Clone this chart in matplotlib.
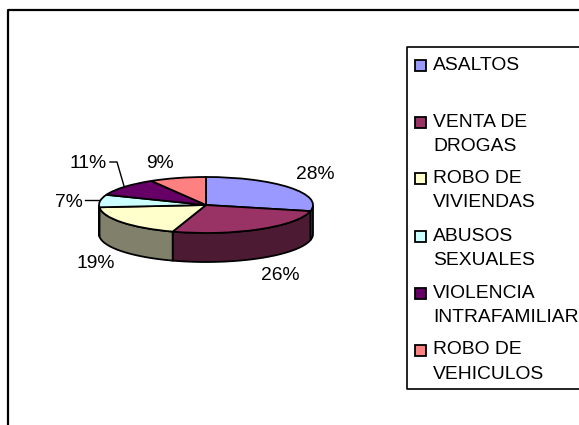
# -*- coding: utf-8 -*-
import numpy as np
import matplotlib
matplotlib.use("Agg")
import matplotlib.pyplot as plt
from matplotlib.patches import Rectangle

plt.rcParams['font.family'] = ['Liberation Sans', 'DejaVu Sans']

# datos
categorias = ["ASALTOS", "VENTA DE\nDROGAS", "ROBO DE\nVIVIENDAS",
              "ABUSOS\nSEXUALES", "VIOLENCIA\nINTRAFAMILIAR", "ROBO DE\nVEHICULOS"]
valores = [28.4, 26.45, 18.6, 7.2, 10.5, 8.5]
etiquetas = ["28%", "26%", "19%", "7%", "11%", "9%"]
colores = ["#9999FF", "#993366", "#FFFFCC", "#CCFFFF", "#660066", "#FF8080"]
colores_lado = ["#4D4D80", "#4D1A33", "#80806B", "#668080", "#330033", "#804040"]

W, H = 579, 425
TAM = 13.9

fig = plt.figure(figsize=(W / 100, H / 100), dpi=100)

# capa en pixeles para el marco, la leyenda y los textos
fondo = fig.add_axes([0, 0, 1, 1])
fondo.set_xlim(0, W)
fondo.set_ylim(H, 0)
fondo.axis("off")

# marco exterior (cortado por la derecha y por abajo)
fondo.plot([8, 8, W], [H, 10, 10], color="black", lw=1.6, solid_capstyle="butt")

# torta: elipse de 214x56 px con 29 px de grosor
x0, x1, y0, y1 = 99, 313, 177, 233
ax = fig.add_axes([x0 / W, 1 - y1 / H, (x1 - x0) / W, (y1 - y0) / H])
ax.patch.set_alpha(0)
ax.axis("off")
grosor = 29 / ((y1 - y0) / 2)

fracs = np.array(valores) / sum(valores) * 360
fin = np.cumsum(fracs)
ini = fin - fracs
for a, b, c in zip(ini, fin, colores_lado):
    a2, b2 = max(a, 90), min(b, 270)
    if b2 <= a2:
        continue
    t = np.radians(np.linspace(a2, b2, 60))
    xs = np.sin(t)
    ys = np.cos(t)
    ax.fill(np.r_[xs, xs[::-1]], np.r_[ys, ys[::-1] - grosor], facecolor=c,
            edgecolor="black", lw=1.3, clip_on=False, zorder=1)

ax.pie(valores, colors=colores, startangle=90, counterclock=False, radius=1,
       wedgeprops={"edgecolor": "black", "linewidth": 1.3, "clip_on": False, "zorder": 2})
ax.set_aspect("auto")
ax.set_xlim(-1, 1)
ax.set_ylim(-1, 1)

# etiquetas de porcentaje
pos_etq = [(315, 174), (280, 276), (96, 264), (69, 202), (88, 163), (160, 163)]
for txt, (x, y) in zip(etiquetas, pos_etq):
    fondo.text(x, y, txt, fontsize=TAM, ha="center", va="center", color="black")

# lineas guia
fondo.plot([85, 100], [200, 200], color="black", lw=1.0)
fondo.plot([110, 117, 124], [162, 162, 186], color="black", lw=1.0)

# leyenda
fondo.plot([W, 407, 407, W], [47, 47, 389, 389], color="black", lw=1.2)
filas_y = [65, 122, 178, 236, 293, 350]
for nombre, color, y in zip(categorias, colores, filas_y):
    fondo.add_patch(Rectangle((415, y - 5.5), 11, 11, facecolor=color, edgecolor="black", lw=1.3))
    # cada linea por separado: el cuadro queda a la altura de la primera
    for i, linea in enumerate(nombre.split("\n")):
        fondo.text(433, y + i * 24.5, linea, fontsize=TAM, ha="left", va="center", color="black")

fig.savefig("out.png", dpi=100)
